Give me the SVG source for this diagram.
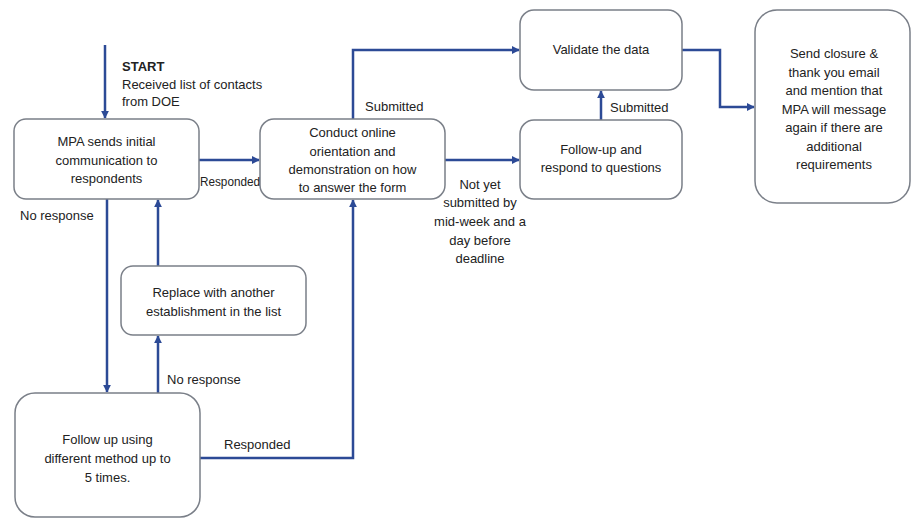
<svg xmlns="http://www.w3.org/2000/svg" width="912" height="519" viewBox="0 0 912 519">
<style>
.box{fill:#fff;stroke:#7a7f88;stroke-width:1.5}
.t{font-family:"Liberation Sans",Arial,sans-serif;font-size:13px;fill:#222;text-anchor:middle}
.l{font-family:"Liberation Sans",Arial,sans-serif;font-size:13px;fill:#222}
.c{fill:none;stroke:#2c4a96;stroke-width:2.5}
</style>
<defs>
<marker id="ah" viewBox="0 0 10 10" refX="9" refY="5" markerWidth="3.2" markerHeight="3.2" orient="auto" markerUnits="strokeWidth">
<path d="M0,0 L10,5 L0,10 z" fill="#2c4a96"/>
</marker>
</defs>
<rect width="912" height="519" fill="#fff"/>
<g id="connectors">
<path class="c" d="M105,45 V118" marker-end="url(#ah)"/>
<path class="c" d="M199,160 H259" marker-end="url(#ah)"/>
<path class="c" d="M353,119 V50 H519" marker-end="url(#ah)"/>
<path class="c" d="M445,160 H519" marker-end="url(#ah)"/>
<path class="c" d="M601,120 V91" marker-end="url(#ah)"/>
<path class="c" d="M682,50 H720 V107 H754" marker-end="url(#ah)"/>
<path class="c" d="M107,199 V392" marker-end="url(#ah)"/>
<path class="c" d="M158,393 V336" marker-end="url(#ah)"/>
<path class="c" d="M158,266 V200" marker-end="url(#ah)"/>
<path class="c" d="M200,458 H353 V200" marker-end="url(#ah)"/>
</g>
<g id="node-mpa">
<rect class="box" x="14" y="119" width="185" height="80" rx="12"/>
<text class="t" x="106.5" y="146">MPA sends initial</text>
<text class="t" x="106.5" y="165">communication to</text>
<text class="t" x="106.5" y="183">respondents</text>
</g>
<g id="node-orientation">
<rect class="box" x="260" y="119" width="185" height="80" rx="14"/>
<text class="t" x="352.5" y="137">Conduct online</text>
<text class="t" x="352.5" y="155.5">orientation and</text>
<text class="t" x="352.5" y="174">demonstration on how</text>
<text class="t" x="352.5" y="192">to answer the form</text>
</g>
<g id="node-validate">
<rect class="box" x="520" y="10" width="162" height="80" rx="14"/>
<text class="t" x="601" y="54">Validate the data</text>
</g>
<g id="node-followup">
<rect class="box" x="520" y="120" width="162" height="79" rx="14"/>
<text class="t" x="601" y="154">Follow-up and</text>
<text class="t" x="601" y="172">respond to questions</text>
</g>
<g id="node-closure">
<rect class="box" x="755" y="10" width="155" height="193" rx="22"/>
<text class="t" x="834" y="58">Send closure &amp;</text>
<text class="t" x="834" y="76.5">thank you email</text>
<text class="t" x="834" y="95">and mention that</text>
<text class="t" x="834" y="113.5">MPA will message</text>
<text class="t" x="834" y="132">again if there are</text>
<text class="t" x="834" y="150.5">additional</text>
<text class="t" x="834" y="169">requirements</text>
</g>
<g id="node-replace">
<rect class="box" x="121" y="266" width="185" height="69" rx="12"/>
<text class="t" x="213.5" y="297">Replace with another</text>
<text class="t" x="213.5" y="316">establishment in the list</text>
</g>
<g id="node-followup5">
<rect class="box" x="15" y="393" width="185" height="124" rx="20"/>
<text class="t" x="107.5" y="444">Follow up using</text>
<text class="t" x="107.5" y="463">different method up to</text>
<text class="t" x="107.5" y="482">5 times.</text>
</g>
<g id="labels">
<text class="l" x="122" y="71" font-weight="bold">START</text>
<text class="l" x="122" y="89">Received list of contacts</text>
<text class="l" x="122" y="106">from DOE</text>
<text class="l" x="200" y="186" font-size="12" textLength="60" lengthAdjust="spacingAndGlyphs">Responded</text>
<text class="l" x="20" y="220">No response</text>
<text class="l" x="365" y="111">Submitted</text>
<text class="l" x="610" y="112">Submitted</text>
<text class="t" x="480" y="189">Not yet</text>
<text class="t" x="480" y="207">submitted by</text>
<text class="t" x="480" y="226">mid-week and a</text>
<text class="t" x="480" y="245">day before</text>
<text class="t" x="480" y="263">deadline</text>
<text class="l" x="167" y="384">No response</text>
<text class="l" x="224" y="449">Responded</text>
</g>
</svg>
